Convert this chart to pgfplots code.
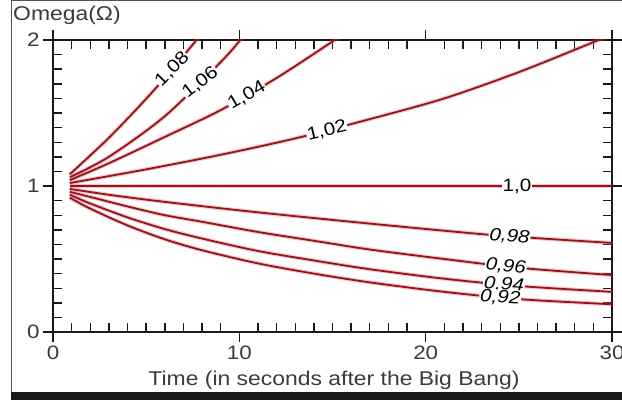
\documentclass[border=0pt]{standalone}
\usepackage{fontspec}
\setmainfont{Liberation Sans}[FakeStretch=1.15]
\usepackage{pgfplots}
\pgfplotsset{compat=1.18}

\definecolor{curve}{RGB}{145,20,30}
\definecolor{halo}{RGB}{235,90,90}
\definecolor{frame}{RGB}{25,25,25}

\pgfplotsset{
  omega/.style={curve, line width=1.8bp, smooth, no markers,
    preaction={draw, halo, line width=4bp, opacity=0.35}},
}
\tikzset{
  clabel/.style={fill=white, inner sep=0.8bp, font=\fontsize{18}{20}\selectfont},
  ilabel/.style={clabel, font=\fontsize{18}{20}\selectfont\itshape},
}

\begin{document}
\begin{tikzpicture}[x=1bp,y=1bp]
\begin{axis}[
  scale only axis,
  width=559bp, height=292bp,
  xmin=0, xmax=30, ymin=0, ymax=2,
  xtick={0,10,20,30}, ytick={0,1,2},
  minor x tick num=9, minor y tick num=9,
  tick align=outside,
  major tick length=10bp, minor tick length=-9bp,
  axis line style={frame, line width=2bp},
  every tick/.style={frame, line width=1.6bp},
  every minor tick/.style={frame, line width=1.4bp},
  tick label style={font=\fontsize{19.5}{22}\selectfont, text=frame!85},
  /pgf/number format/assume math mode=true,
  clip=true,
]
\coordinate (O) at (axis cs:0,0);
% Omega = 1.08
\addplot[omega] coordinates {(0.9,1.08) (3,1.33) (5,1.597) (6.4,1.80) (7.7,2.0) (8.0,2.05)};
% Omega = 1.06
\addplot[omega] coordinates {(0.9,1.06) (3,1.20) (6,1.478) (9,1.849) (10.05,2.0) (10.3,2.04)};
% Omega = 1.04
\addplot[omega] coordinates {(0.9,1.04) (3,1.156) (6,1.336) (9,1.52) (12,1.74) (15,1.99) (15.5,2.04)};
% Omega = 1.02
\addplot[omega] coordinates {(0.9,1.02) (5,1.114) (9,1.214) (13,1.326) (17,1.458) (21,1.60) (25,1.78) (29,1.985) (30,2.04)};
% Omega = 1.0
\addplot[omega] coordinates {(0.9,1.0) (30,1.0)};
% Omega = 0.98
\addplot[omega] coordinates {(0.9,0.98) (3,0.94) (5.75,0.895) (10.6,0.825) (16,0.755) (21.3,0.69) (24.5,0.655) (30,0.61)};
% Omega = 0.96
\addplot[omega] coordinates {(0.9,0.96) (2,0.925) (4,0.86) (6,0.80) (8,0.755) (11,0.685) (14,0.625) (17,0.565) (21,0.50) (25,0.44) (30,0.39)};
% Omega = 0.94
\addplot[omega] coordinates {(0.9,0.94) (2,0.88) (4,0.785) (6,0.705) (8,0.64) (11,0.555) (14,0.49) (17,0.43) (21,0.365) (25,0.315) (30,0.275)};
% Omega = 0.92
\addplot[omega] coordinates {(0.9,0.92) (2,0.845) (4,0.73) (6,0.635) (8,0.56) (11,0.47) (14,0.40) (17,0.34) (21,0.275) (25,0.225) (30,0.19)};

% curve labels
\node[clabel, rotate=45] at (axis cs:6.4,1.80) {1,08};
\node[clabel, rotate=38] at (axis cs:7.9,1.71) {1,06};
\node[clabel, rotate=30] at (axis cs:10.4,1.62) {1,04};
\node[clabel, rotate=13] at (axis cs:14.7,1.38) {1,02};
\node[clabel] at (axis cs:24.9,1.0) {1,0};
\node[ilabel, rotate=-4] at (axis cs:24.5,0.655) {0,98};
\node[ilabel, rotate=-5] at (axis cs:24.3,0.45) {0,96};
\node[ilabel, rotate=-4] at (axis cs:24.2,0.325) {0,94};
\node[ilabel, rotate=-3] at (axis cs:24.0,0.235) {0,92};
\end{axis}

% page frame and titles, placed from the plot origin
\begin{scope}[shift={(O)}, shift={(-53,-68)}]
\draw[frame!75, line width=1.5bp] (11.5,8) -- (11.5,399.3) -- (622,399.3);
\fill[frame] (10.8,0) rectangle (630,8.5);
\node[anchor=west, font=\fontsize{20}{24}\selectfont, text=frame!85, inner sep=0pt] at (13,385) {Omega(Ω)};
\node[font=\fontsize{20}{24}\selectfont, text=frame!85, inner sep=0pt] at (334,20) {Time (in seconds after the Big Bang)};
\pgfresetboundingbox
\useasboundingbox (0,0) rectangle (622,400);
\end{scope}
\end{tikzpicture}
\end{document}
